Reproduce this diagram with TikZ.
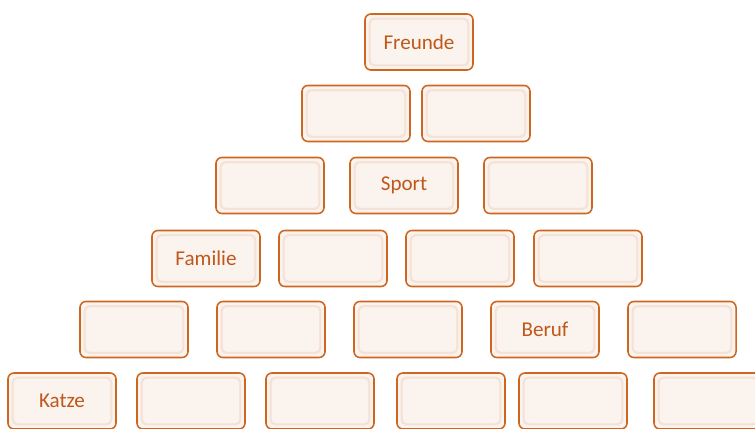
\documentclass[tikz,border=0pt]{standalone}
\usepackage{fontspec}
\setmainfont{Carlito}
\usepackage{tikz}
\usetikzlibrary{positioning}
\definecolor{brickline}{HTML}{CC6620}
\definecolor{brickfill}{HTML}{FAF3EE}
\definecolor{brickshade}{HTML}{F5E1D5}
\definecolor{bricktext}{HTML}{C0581C}

\begin{document}
\begin{tikzpicture}[x=0.03cm,y=-0.03cm,font=\fontsize{18}{21}\selectfont,
  brick/.style={draw=brickline,line width=1.3pt,fill=brickfill,rounded corners=5pt,
    minimum width=3.24cm,minimum height=1.68cm,text=bricktext,inner sep=0pt,
    path picture={\draw[brickshade,line width=1.8pt,rounded corners=4pt]
      ([xshift=4pt,yshift=-4pt]path picture bounding box.north west) rectangle
      ([xshift=-4pt,yshift=4pt]path picture bounding box.south east);}}]
\clip (0,0) rectangle (755,429);
\useasboundingbox (0,0) rectangle (755,429);
% top
\node[brick] (b0-1) at (419,42) {Freunde};
\foreach \x/\n/\t in {356/1/,476/2/}
  \node[brick] (b1-\n) at (\x,113.5) {\t};
\foreach \x/\n/\t in {270/1/,404/2/Sport,538/3/}
  \node[brick] (b2-\n) at (\x,185.5) {\t};
\foreach \x/\n/\t in {206/1/Familie,333/2/,460/3/,588/4/}
  \node[brick] (b3-\n) at (\x,258.5) {\t};
\foreach \x/\n/\t in {134/1/,271/2/,408/3/,545/4/Beruf,682/5/}
  \node[brick] (b4-\n) at (\x,329.5) {\t};
% bottom row
\foreach \x/\n/\t in {62/1/Katze,191/2/,320/3/,451/4/,573/5/,708/6/}
  \node[brick] (b5-\n) at (\x,401) {\t};
\end{tikzpicture}
\end{document}
